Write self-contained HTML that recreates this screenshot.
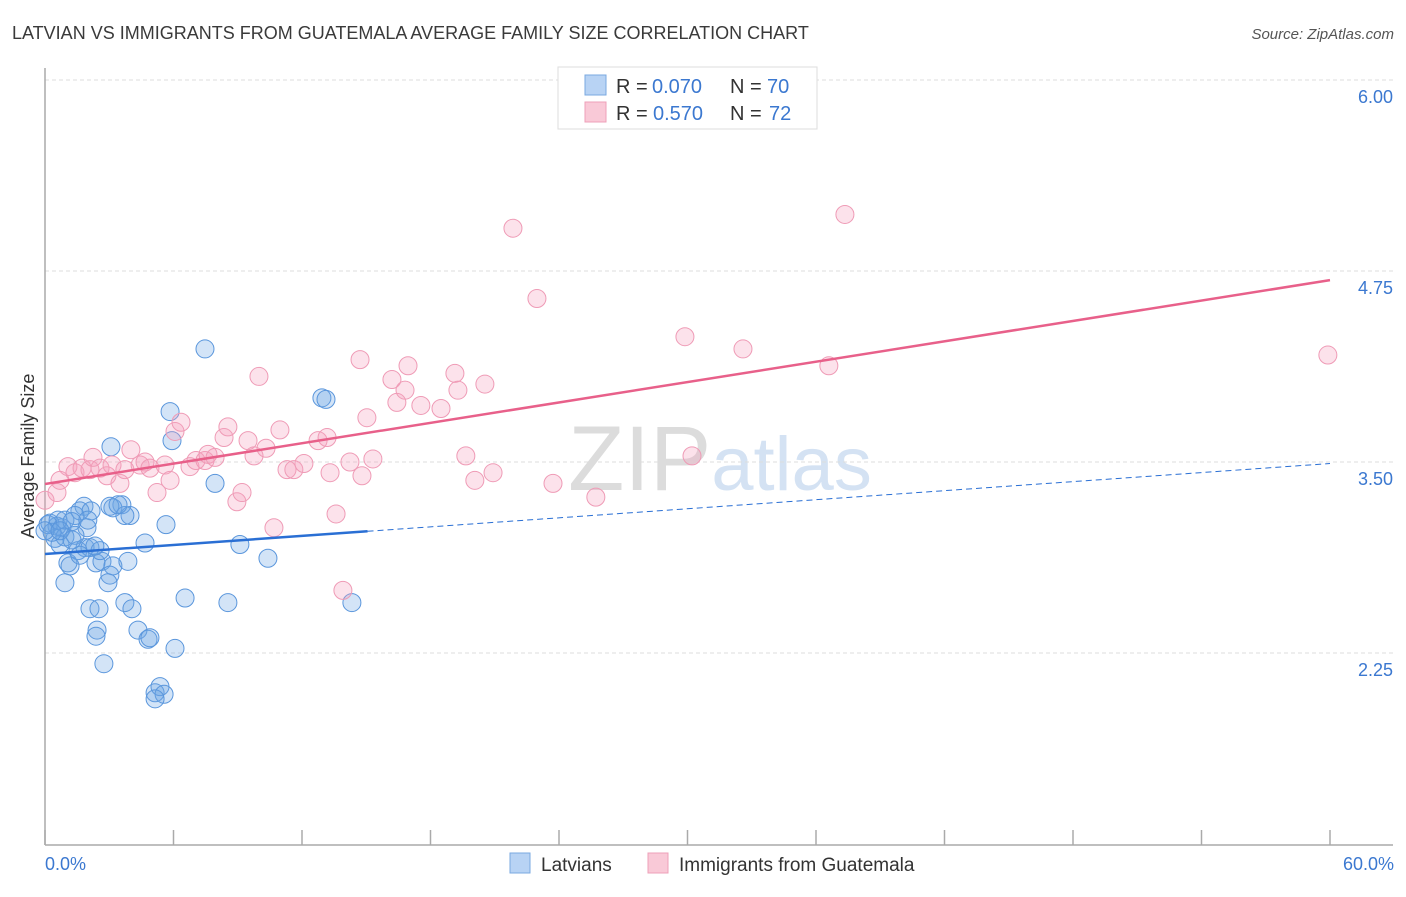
<!DOCTYPE html>
<html><head><meta charset="utf-8"><style>
body{margin:0;background:#fff;font-family:"Liberation Sans",sans-serif}
svg text{font-family:"Liberation Sans",sans-serif}
</style></head><body>
<svg id="chart" width="1406" height="892" viewBox="0 0 1406 892" xmlns="http://www.w3.org/2000/svg">
<text x="12" y="39" font-size="18" fill="#3a3a3a">LATVIAN VS IMMIGRANTS FROM GUATEMALA AVERAGE FAMILY SIZE CORRELATION CHART</text>
<text x="1394" y="39" font-size="15" font-style="italic" fill="#555" text-anchor="end">Source: ZipAtlas.com</text>
<text x="720" y="490" font-size="92" text-anchor="middle" fill="#e8e8e8" font-family="Liberation Serif"><tspan fill="#dcdcdc">ZIP</tspan><tspan fill="#d4e2f3" font-family="Liberation Sans" font-size="76">atlas</tspan></text>
<g id="grid"></g>
<g id="axes"></g>
<g id="marks"></g>
<text transform="translate(34,456) rotate(-90)" font-size="18" fill="#333" text-anchor="middle">Average Family Size</text>
<text x="45" y="870" font-size="18" fill="#3b78d0">0.0%</text>
<text x="1394" y="870" font-size="18" fill="#3b78d0" text-anchor="end">60.0%</text>
<g>
<rect x="558" y="67" width="259" height="62" fill="#fff" stroke="#ddd"/>
<rect x="585" y="75" width="21" height="20" fill="#b8d3f4" stroke="#7aa8e0"/>
<rect x="585" y="102" width="21" height="20" fill="#f9c9d7" stroke="#eea0b8"/>
<text x="616" y="93" font-size="20" fill="#333">R =</text>
<text x="652" y="93" font-size="20" fill="#3b78d0">0.070</text>
<text x="730" y="93" font-size="20" fill="#333">N =</text>
<text x="767" y="93" font-size="20" fill="#3b78d0">70</text>
<text x="616" y="120" font-size="20" fill="#333">R =</text>
<text x="653" y="120" font-size="20" fill="#3b78d0">0.570</text>
<text x="730" y="120" font-size="20" fill="#333">N =</text>
<text x="769" y="120" font-size="20" fill="#3b78d0">72</text>
</g>
<g>
<rect x="510" y="853" width="20" height="20" fill="#b8d3f4" stroke="#7aa8e0"/>
<text x="541" y="871" font-size="19" fill="#333">Latvians</text>
<rect x="648" y="853" width="20" height="20" fill="#f9c9d7" stroke="#eea0b8"/>
<text x="679" y="871" font-size="19" fill="#333">Immigrants from Guatemala</text>
</g>
</svg>
<script>
const yTicks=[6.00,4.75,3.50,2.25];
const xTicks=[0,6,12,18,24,30,36,42,48,54,60];
const blueX=[7.47,5.84,5.93,3.08,7.94,3.59,3.17,1.82,1.63,2.15,1.40,3.97,3.73,5.65,1.96,0.23,0.56,0.79,0.47,0.93,1.40,0.70,4.67,9.10,1.54,1.87,2.10,1.07,1.17,2.38,2.66,3.17,3.87,10.41,3.03,2.94,0.93,6.54,8.54,3.73,2.10,2.52,4.06,14.33,2.43,2.38,4.34,4.81,4.90,6.07,2.75,5.14,5.37,5.56,5.14,12.93,13.12,0.14,0.33,0.61,0.93,1.26,3.03,3.41,1.63,2.57,0.0,2.0,0.7,2.33,1.26];
const blueY=[4.24,3.83,3.64,3.60,3.36,3.22,3.20,3.21,3.18,3.18,3.15,3.15,3.15,3.09,3.07,3.10,3.08,3.07,3.00,3.01,3.02,2.96,2.97,2.96,2.92,2.94,2.94,2.84,2.82,2.84,2.85,2.82,2.85,2.87,2.76,2.71,2.71,2.61,2.58,2.58,2.54,2.54,2.54,2.58,2.40,2.36,2.40,2.34,2.35,2.28,2.18,1.99,2.03,1.98,1.95,3.92,3.91,3.09,3.04,3.12,3.12,3.11,3.21,3.22,2.89,2.92,3.05,3.12,3.05,2.95,2.99];
const pinkX=[0,0.56,0.70,1.07,1.40,1.73,2.10,2.24,2.57,2.89,3.13,3.50,3.73,4.01,4.44,4.67,4.90,5.23,5.60,5.84,6.07,6.35,6.77,7.05,7.47,7.61,7.94,8.36,8.54,8.96,9.20,9.48,9.76,9.99,10.32,10.69,10.97,11.30,11.62,12.09,12.75,13.17,13.31,13.59,13.91,14.24,14.71,14.80,15.03,15.31,16.20,16.43,16.81,16.95,17.55,18.49,19.14,19.28,19.65,20.07,20.54,20.92,21.85,22.97,23.72,25.72,29.88,30.21,32.59,36.60,37.35,59.90];
const pinkY=[3.25,3.30,3.38,3.47,3.43,3.46,3.45,3.53,3.46,3.41,3.48,3.36,3.45,3.58,3.48,3.50,3.46,3.30,3.48,3.38,3.70,3.76,3.47,3.51,3.51,3.55,3.53,3.66,3.73,3.24,3.30,3.64,3.54,4.06,3.59,3.07,3.71,3.45,3.45,3.49,3.64,3.66,3.43,3.16,2.66,3.50,4.17,3.41,3.79,3.52,4.04,3.89,3.97,4.13,3.87,3.85,4.08,3.97,3.54,3.38,4.01,3.43,5.03,4.57,3.36,3.27,4.32,3.54,4.24,4.13,5.12,4.20];
const blueTrend=[2.898,3.49], blueSolidEnd=15.06;
const pinkTrend=[3.356,4.69];

const NS="http://www.w3.org/2000/svg";
const X=v=>45+v*(1285/60);
const Y=v=>80+(6-v)*152.8;
function mk(tag,attrs,parent){const e=document.createElementNS(NS,tag);for(const k in attrs)e.setAttribute(k,attrs[k]);parent.appendChild(e);return e;}
const grid=document.getElementById('grid'),axes=document.getElementById('axes'),marks=document.getElementById('marks');
yTicks.forEach(t=>{
 const l=mk('line',{x1:45,x2:1393,y1:Y(t),y2:Y(t),stroke:'#ddd','stroke-dasharray':'4,3'},grid);
 
 
 const tx=mk('text',{x:1393,y:Y(t)+23,'font-size':18,fill:'#3b78d0','text-anchor':'end'},grid);
 tx.textContent=t.toFixed(2);
 
 
});
const ya=mk('line',{x1:45,x2:45,y1:68,y2:845,stroke:'#aaa','stroke-width':1.5},axes);


const xa=mk('line',{x1:45,x2:1393,y1:845,y2:845,stroke:'#aaa','stroke-width':1.5},axes);


xTicks.forEach(t=>{
 const l=mk('line',{x1:X(t),x2:X(t),y1:830,y2:845,stroke:'#aaa','stroke-width':1.5},axes);
 
 
});
blueX.forEach((v,i)=>{
 const c=mk('circle',{cx:X(v),cy:Y(blueY[i]),r:9,fill:'rgba(110,165,230,0.3)',stroke:'#5a96dc','stroke-width':1},marks);
 
 
});
pinkX.forEach((v,i)=>{
 const c=mk('circle',{cx:X(v),cy:Y(pinkY[i]),r:9,fill:'rgba(245,160,188,0.3)',stroke:'#ef9bb6','stroke-width':1},marks);
 
 
});
const bAt=x=>blueTrend[0]+(blueTrend[1]-blueTrend[0])*x/60;
const b1=mk('line',{x1:X(0),y1:Y(bAt(0)),x2:X(blueSolidEnd),y2:Y(bAt(blueSolidEnd)),stroke:'#2a6fd4','stroke-width':2.5},marks);


const b2=mk('line',{x1:X(blueSolidEnd),y1:Y(bAt(blueSolidEnd)),x2:X(60),y2:Y(bAt(60)),stroke:'#2a6fd4','stroke-width':1,'stroke-dasharray':'6,4'},marks);


const p=mk('line',{x1:X(0),y1:Y(pinkTrend[0]),x2:X(60),y2:Y(pinkTrend[1]),stroke:'#e8608a','stroke-width':2.5},marks);


</script>
</body></html>
